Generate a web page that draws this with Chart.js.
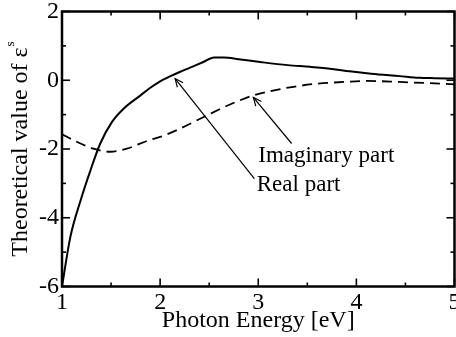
<!DOCTYPE html>
<html>
<head>
<meta charset="utf-8">
<script src="https://cdn.jsdelivr.net/npm/chart.js@4.4.1/dist/chart.umd.min.js"></script>
<style>
  html, body { margin: 0; padding: 0; background: #fff; }
  #wrap { width: 456px; height: 337px; }
</style>
</head>
<body>
<div id="wrap"><canvas id="c" width="456" height="337"></canvas></div>
<script>
// Real part of epsilon_s versus photon energy (eV)
const realEnergy = [1.0, 1.085, 1.19, 1.29, 1.39, 1.51, 1.63, 1.80, 1.9, 2.0, 2.1, 2.2, 2.3, 2.44, 2.55, 2.65, 2.8, 3.02, 3.3, 3.53, 3.75, 3.93, 4.15, 4.44, 4.64, 4.8, 5.0];
const realValue  = [-6.0, -4.56, -3.49, -2.62, -1.84, -1.21, -0.82, -0.44, -0.22, -0.03, 0.11, 0.24, 0.36, 0.53, 0.66, 0.66, 0.61, 0.53, 0.44, 0.39, 0.33, 0.26, 0.19, 0.12, 0.07, 0.06, 0.05];

// Imaginary part of epsilon_s versus photon energy (eV)
const imagEnergy = [1.0, 1.15, 1.32, 1.49, 1.66, 1.89, 2.0, 2.17, 2.45, 2.7, 2.95, 3.15, 3.36, 3.6, 3.87, 4.1, 4.44, 4.7, 5.0];
const imagValue  = [-1.57, -1.79, -1.99, -2.08, -1.99, -1.74, -1.65, -1.45, -1.06, -0.72, -0.44, -0.3, -0.19, -0.1, -0.05, -0.02, -0.05, -0.08, -0.12];

// Axis ticks
const xTickValues = [1, 2, 3, 4, 5];
const xTickLabels = ['1', '2', '3', '4', '5'];
const yTickValues = [-6, -4, -2, 0, 2];
const yTickLabels = ['-6', '-4', '-2', '0', '2'];

const SERIF = "'Liberation Serif', 'Times New Roman', serif";

const toPoints = (xs, ys) => xs.map((x, i) => ({ x, y: ys[i] }));

// Fixed axis box size, without the extra room Chart.js reserves for edge labels
const fixBox = (prop, size) => s => {
  s[prop] = size;
  s.paddingLeft = s.paddingRight = s.paddingTop = s.paddingBottom = 0;
};

// Closed frame with inward major/minor ticks on all four sides
const framePlugin = {
  id: 'frame',
  afterDatasetsDraw(chart) {
    const { ctx, chartArea: a, scales: { x, y } } = chart;
    const seg = (x1, y1, x2, y2) => { ctx.beginPath(); ctx.moveTo(x1, y1); ctx.lineTo(x2, y2); ctx.stroke(); };
    ctx.save();
    ctx.strokeStyle = '#000';
    ctx.lineWidth = 1.6;
    const xStep = (xTickValues[1] - xTickValues[0]) / 2;
    for (let v = xTickValues[0]; v <= xTickValues[xTickValues.length - 1] + 1e-9; v += xStep) {
      const px = x.getPixelForValue(v);
      const len = xTickValues.some(t => Math.abs(t - v) < 1e-9) ? 8 : 4;
      seg(px, a.bottom, px, a.bottom - len);
      seg(px, a.top, px, a.top + len);
    }
    const yStep = (yTickValues[1] - yTickValues[0]) / 2;
    for (let v = yTickValues[0]; v <= yTickValues[yTickValues.length - 1] + 1e-9; v += yStep) {
      const py = y.getPixelForValue(v);
      const len = yTickValues.some(t => Math.abs(t - v) < 1e-9) ? 8 : 4;
      seg(a.left, py, a.left + len, py);
      seg(a.right, py, a.right - len, py);
    }
    ctx.lineWidth = 2.5;
    ctx.strokeRect(a.left, a.top, a.right - a.left, a.bottom - a.top);
    ctx.restore();
  }
};

// Labelled arrows pointing at the two curves
const callouts = [
  { text: 'Imaginary part', tip: [2.95, -0.50], tail: [3.34, -1.84], at: [3.0, -2.38] },
  { text: 'Real part',      tip: [2.153, 0.05], tail: [2.96, -2.86], at: [2.985, -3.23] }
];

const calloutPlugin = {
  id: 'callouts',
  afterDatasetsDraw(chart) {
    const { ctx, scales: { x, y } } = chart;
    ctx.save();
    ctx.strokeStyle = '#000';
    ctx.fillStyle = '#000';
    ctx.lineWidth = 1.2;
    callouts.forEach(c => {
      const tx = x.getPixelForValue(c.tip[0]), ty = y.getPixelForValue(c.tip[1]);
      const bx = x.getPixelForValue(c.tail[0]), by = y.getPixelForValue(c.tail[1]);
      ctx.beginPath(); ctx.moveTo(bx, by); ctx.lineTo(tx, ty); ctx.stroke();
      const ang = Math.atan2(ty - by, tx - bx);
      const h = 9, spread = 0.42;
      ctx.beginPath();
      ctx.moveTo(tx - h * Math.cos(ang - spread), ty - h * Math.sin(ang - spread));
      ctx.lineTo(tx, ty);
      ctx.lineTo(tx - h * Math.cos(ang + spread), ty - h * Math.sin(ang + spread));
      ctx.stroke();
      ctx.font = '23px ' + SERIF;
      ctx.textAlign = 'left';
      ctx.textBaseline = 'alphabetic';
      ctx.fillText(c.text, x.getPixelForValue(c.at[0]), y.getPixelForValue(c.at[1]));
    });
    ctx.restore();
  }
};

// Rotated y-axis title with a small raised "s" after epsilon
const yTitlePlugin = {
  id: 'yTitle',
  afterDraw(chart) {
    const { ctx, chartArea: a } = chart;
    const main = 'Theoretical value of \u03B5';
    const sub = 's';
    ctx.save();
    ctx.fillStyle = '#000';
    ctx.textBaseline = 'alphabetic';
    ctx.font = '24px ' + SERIF;
    const wMain = ctx.measureText(main).width;
    ctx.font = '13px ' + SERIF;
    const wSub = ctx.measureText(sub).width;
    const total = wMain + 1 + wSub;
    ctx.translate(27, (a.top + a.bottom) / 2);
    ctx.rotate(-Math.PI / 2);
    ctx.font = '24px ' + SERIF;
    ctx.fillText(main, -total / 2, 0);
    ctx.font = '13px ' + SERIF;
    ctx.fillText(sub, -total / 2 + wMain + 1, -13);
    ctx.restore();
  }
};

new Chart(document.getElementById('c'), {
  type: 'line',
  data: {
    datasets: [
      {
        label: 'Real part',
        data: toPoints(realEnergy, realValue),
        borderColor: '#000',
        borderWidth: 2,
        pointRadius: 0,
        cubicInterpolationMode: 'monotone',
        fill: false
      },
      {
        label: 'Imaginary part',
        data: toPoints(imagEnergy, imagValue),
        borderColor: '#000',
        borderWidth: 1.8,
        borderDash: [10, 6],
        pointRadius: 0,
        cubicInterpolationMode: 'monotone',
        fill: false
      }
    ]
  },
  options: {
    responsive: false,
    animation: false,
    devicePixelRatio: 1,
    layout: { autoPadding: false, padding: { top: 11.5, right: 1.5, left: 0, bottom: 0 } },
    plugins: { legend: { display: false }, tooltip: { enabled: false } },
    scales: {
      x: {
        type: 'linear',
        min: 1, max: 5,
        afterBuildTicks: s => { s.ticks = xTickValues.map(v => ({ value: v })); },
        afterFit: fixBox('height', 50.5),
        grid: { display: false, drawTicks: false },
        border: { display: false },
        ticks: {
          color: '#000',
          padding: 2,
          maxRotation: 0,
          font: { family: SERIF, size: 24 },
          callback: v => xTickLabels[xTickValues.indexOf(v)]
        },
        title: {
          display: true,
          text: 'Photon Energy [eV]',
          color: '#000',
          font: { family: SERIF, size: 24 },
          padding: { top: 0, bottom: 2 }
        }
      },
      y: {
        type: 'linear',
        min: -6, max: 2,
        afterBuildTicks: s => { s.ticks = yTickValues.map(v => ({ value: v })); },
        afterFit: fixBox('width', 62),
        grid: { display: false, drawTicks: false },
        border: { display: false },
        ticks: {
          color: '#000',
          padding: 3,
          font: { family: SERIF, size: 24 },
          callback: v => yTickLabels[yTickValues.indexOf(v)]
        }
      }
    }
  },
  plugins: [framePlugin, calloutPlugin, yTitlePlugin]
});
</script>
</body>
</html>
